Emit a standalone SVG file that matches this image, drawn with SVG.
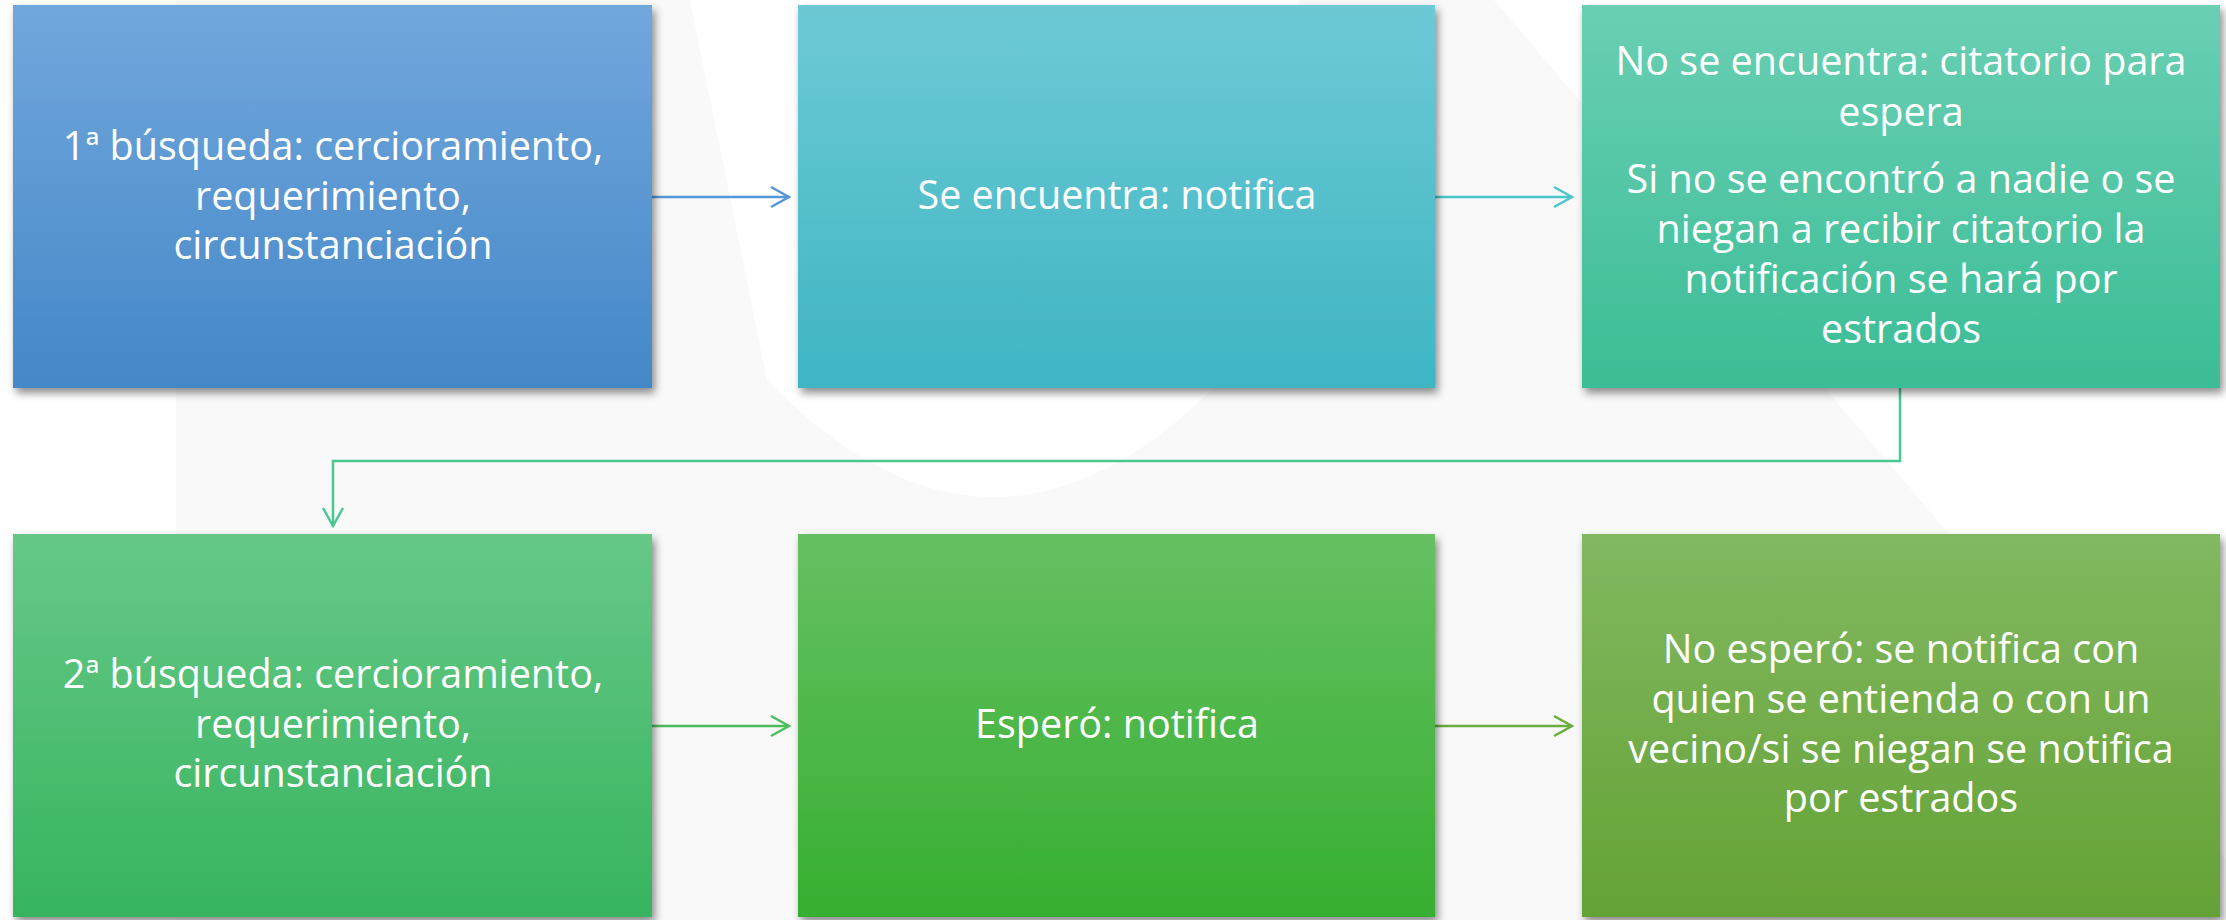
<svg xmlns="http://www.w3.org/2000/svg" width="2226" height="920" viewBox="0 0 2226 920">
<style>
.t{font-family:"Open Sans","Noto Sans","Liberation Sans",sans-serif;font-size:39.5px;fill:#ffffff;text-anchor:middle}
.c{fill:none;stroke-width:2.5}
</style>
<defs>
<filter id="sh" x="-5%" y="-5%" width="112%" height="115%">
<feDropShadow dx="3" dy="5" stdDeviation="4" flood-color="#000" flood-opacity="0.45"/>
</filter>
<linearGradient id="g1" x1="0" y1="0" x2="0" y2="1"><stop offset="0" stop-color="#72a7dc"/><stop offset="1" stop-color="#4488c8"/></linearGradient>
<linearGradient id="g2" x1="0" y1="0" x2="0" y2="1"><stop offset="0" stop-color="#6dcad5"/><stop offset="1" stop-color="#3fb5c3"/></linearGradient>
<linearGradient id="g3" x1="0" y1="0" x2="0" y2="1"><stop offset="0" stop-color="#6acfb3"/><stop offset="1" stop-color="#3bbd96"/></linearGradient>
<linearGradient id="g4" x1="0" y1="0" x2="0" y2="1"><stop offset="0" stop-color="#66c887"/><stop offset="1" stop-color="#37b45f"/></linearGradient>
<linearGradient id="g5" x1="0" y1="0" x2="0" y2="1"><stop offset="0" stop-color="#66c062"/><stop offset="1" stop-color="#36af31"/></linearGradient>
<linearGradient id="g6" x1="0" y1="0" x2="0" y2="1"><stop offset="0" stop-color="#82b860"/><stop offset="1" stop-color="#64a236"/></linearGradient>
<marker id="m1" markerWidth="24" markerHeight="24" refX="20" refY="12" orient="auto" markerUnits="userSpaceOnUse"><path d="M2,2 L20,12 L2,22" fill="none" stroke="#5596d6" stroke-width="2.5"/></marker>
<marker id="m2" markerWidth="24" markerHeight="24" refX="20" refY="12" orient="auto" markerUnits="userSpaceOnUse"><path d="M2,2 L20,12 L2,22" fill="none" stroke="#4cc5cc" stroke-width="2.5"/></marker>
<marker id="m3" markerWidth="24" markerHeight="24" refX="20" refY="12" orient="auto" markerUnits="userSpaceOnUse"><path d="M2,2 L20,12 L2,22" fill="none" stroke="#4cc791" stroke-width="2.5"/></marker>
<marker id="m4" markerWidth="24" markerHeight="24" refX="20" refY="12" orient="auto" markerUnits="userSpaceOnUse"><path d="M2,2 L20,12 L2,22" fill="none" stroke="#4bbd5c" stroke-width="2.5"/></marker>
<marker id="m5" markerWidth="24" markerHeight="24" refX="20" refY="12" orient="auto" markerUnits="userSpaceOnUse"><path d="M2,2 L20,12 L2,22" fill="none" stroke="#6aad3e" stroke-width="2.5"/></marker>
</defs>
<rect x="0" y="0" width="2226" height="920" fill="#ffffff"/>
<path d="M176,0 H1494 L2278,920 H176 Z" fill="#f9f9f9"/>
<path d="M690,0 L767,380 Q994,614 1221,380 L1300,0 Z" fill="#ffffff"/>
<g id="connectors">
<path class="c" d="M652,197 H789" stroke="#5596d6" marker-end="url(#m1)"/>
<path class="c" d="M1435,197 H1572" stroke="#4cc5cc" marker-end="url(#m2)"/>
<path class="c" d="M1900,388 V461 H333 V526" stroke="#4cc791" marker-end="url(#m3)"/>
<path class="c" d="M652,726 H789" stroke="#4bbd5c" marker-end="url(#m4)"/>
<path class="c" d="M1435,726 H1572" stroke="#6aad3e" marker-end="url(#m5)"/>
</g>
<g id="n1">
<rect x="13" y="5" width="639" height="383" fill="url(#g1)" filter="url(#sh)"/>
<text class="t" x="333" y="160">1ª búsqueda: cercioramiento,</text>
<text class="t" x="333" y="210">requerimiento,</text>
<text class="t" x="333" y="259">circunstanciación</text>
</g>
<g id="n2">
<rect x="798" y="5" width="637" height="383" fill="url(#g2)" filter="url(#sh)"/>
<text class="t" x="1117" y="209">Se encuentra: notifica</text>
</g>
<g id="n3">
<rect x="1582" y="5" width="638" height="383" fill="url(#g3)" filter="url(#sh)"/>
<text class="t" x="1901" y="75">No se encuentra: citatorio para</text>
<text class="t" x="1901" y="126">espera</text>
<text class="t" x="1901" y="193">Si no se encontró a nadie o se</text>
<text class="t" x="1901" y="243">niegan a recibir citatorio la</text>
<text class="t" x="1901" y="293">notificación se hará por</text>
<text class="t" x="1901" y="343">estrados</text>
</g>
<g id="n4">
<rect x="13" y="534" width="639" height="383" fill="url(#g4)" filter="url(#sh)"/>
<text class="t" x="333" y="688">2ª búsqueda: cercioramiento,</text>
<text class="t" x="333" y="738">requerimiento,</text>
<text class="t" x="333" y="787">circunstanciación</text>
</g>
<g id="n5">
<rect x="798" y="534" width="637" height="383" fill="url(#g5)" filter="url(#sh)"/>
<text class="t" x="1117" y="738">Esperó: notifica</text>
</g>
<g id="n6">
<rect x="1582" y="534" width="638" height="383" fill="url(#g6)" filter="url(#sh)"/>
<text class="t" x="1901" y="663">No esperó: se notifica con</text>
<text class="t" x="1901" y="713">quien se entienda o con un</text>
<text class="t" x="1901" y="763">vecino/si se niegan se notifica</text>
<text class="t" x="1901" y="812">por estrados</text>
</g>
</svg>
